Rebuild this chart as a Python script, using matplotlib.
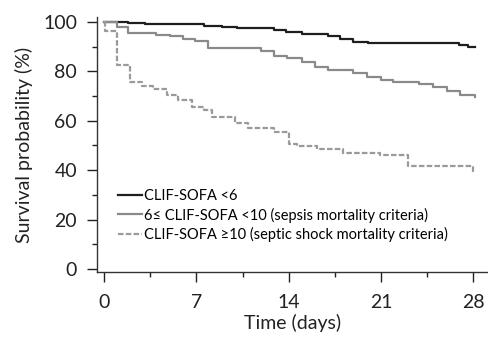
import matplotlib
matplotlib.use('Agg')
import matplotlib.pyplot as plt
from matplotlib.ticker import MultipleLocator

plt.rcParams['font.family'] = ['Lato', 'DejaVu Sans']

# Kaplan-Meier curves (day, survival %)
t_low = [0, 1.8, 3.1, 7.6, 8.9, 10.1, 12.9, 13.8, 15.0, 17.0, 17.9, 18.9, 20.0, 26.9, 27.6, 28.1]
s_low = [100, 99.5, 99.1, 98.5, 98.1, 97.4, 96.5, 95.7, 95.1, 94.3, 93.0, 92.0, 91.4, 90.7, 89.8, 89.8]

t_mid = [0, 1.0, 1.8, 3.9, 5.0, 6.0, 6.9, 7.9, 11.9, 12.9, 13.9, 15.0, 16.0, 17.0, 18.9,
         19.9, 21.0, 21.9, 23.9, 24.9, 26.0, 27.0, 28.1]
s_mid = [100, 97.8, 95.3, 94.7, 94.1, 93.0, 92.1, 89.4, 88.0, 86.0, 85.3, 83.9, 81.6, 80.6, 79.5,
         77.5, 76.5, 75.8, 74.9, 73.5, 72.2, 70.4, 69.5]

t_high = [0, 0.05, 1.0, 2.0, 2.9, 3.7, 4.8, 5.6, 6.7, 7.6, 8.2, 9.9, 10.9, 12.9, 14.0, 14.6,
          16.1, 18.1, 20.9, 23.0, 28.0, 28.1]
s_high = [100, 96.3, 82.6, 75.8, 74.1, 72.7, 70.4, 68.4, 65.7, 64.4, 61.7, 59.0, 57.0, 55.6, 50.6, 49.8,
          48.5, 47.1, 46.2, 41.7, 39.3, 39.3]

labels = ['CLIF-SOFA <6',
          '6\u2264 CLIF-SOFA <10 (sepsis mortality criteria)',
          'CLIF-SOFA \u226510 (septic shock mortality criteria)']

fig = plt.figure(figsize=(4.88, 3.44), dpi=100)
ax = fig.add_axes([0.199, 0.209, 0.801, 0.742])

ax.plot(t_low, s_low, drawstyle='steps-post', color='#1e1e1e', lw=1.6, label=labels[0])
ax.plot(t_mid, s_mid, drawstyle='steps-post', color='#8a8a8a', lw=1.6, label=labels[1])
ax.plot(t_high, s_high, drawstyle='steps-post', color='#9a9a9a', lw=1.6,
        dashes=(2.5, 1), label=labels[2])

ax.set_xlim(-0.53, 29.1)
ax.set_ylim(-1.2, 102)
ax.spines['top'].set_visible(False)
ax.spines['right'].set_visible(False)
for s in ('left', 'bottom'):
    ax.spines[s].set_linewidth(1.0)
    ax.spines[s].set_color('#333333')

ax.xaxis.set_major_locator(MultipleLocator(7))
ax.xaxis.set_minor_locator(MultipleLocator(3.5))
ax.yaxis.set_major_locator(MultipleLocator(20))
ax.yaxis.set_minor_locator(MultipleLocator(10))
ax.tick_params(which='major', direction='out', length=7, width=1, labelsize=14, colors='#222222')
ax.tick_params(which='minor', direction='out', length=3.5, width=1, colors='#222222')
ax.tick_params(axis='x', which='major', pad=9)
ax.tick_params(axis='y', which='major', pad=7.5)

ax.set_xlabel('Time (days)', fontsize=14, color='#222222', labelpad=2)
ax.set_ylabel('Survival probability (%)', fontsize=14, color='#222222', labelpad=7)

ax.legend(loc='upper left', bbox_to_anchor=(0.054, 0.325), frameon=False, fontsize=10.5,
          handlelength=1.6, handletextpad=0.15, labelspacing=0.3, borderpad=0, borderaxespad=0)

fig.savefig('out.png', dpi=100)
